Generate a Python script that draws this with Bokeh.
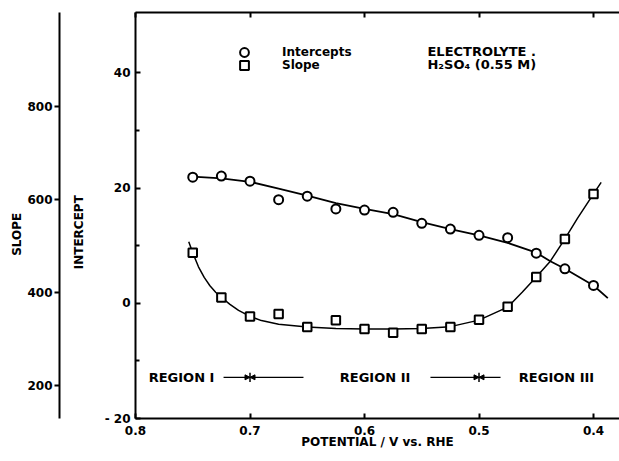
from bokeh.plotting import figure
from bokeh.models import (Range1d, LinearAxis, FixedTicker, Legend, LegendItem,
                          Label, Arrow, NormalHead, ColumnDataSource)
from bokeh.embed import file_html
from bokeh.resources import INLINE

# ---------------- data ----------------
potential = [0.75, 0.725, 0.70, 0.675, 0.65, 0.625, 0.60, 0.575, 0.55, 0.525,
             0.50, 0.475, 0.45, 0.425, 0.40]
intercepts = [21.9, 22.1, 21.2, 18.0, 18.6, 16.4, 16.2, 15.8, 13.9, 12.9,
              11.8, 11.4, 8.7, 6.0, 3.1]
slopes = [485, 389, 348, 353, 325, 340, 321, 313, 321, 325,
          341, 369, 433, 515, 612]

# fitted curves as drawn in the figure
intercept_fit_x = [0.7536, 0.75, 0.725, 0.70, 0.675, 0.65, 0.625, 0.60, 0.575,
                   0.55, 0.525, 0.50, 0.475, 0.45, 0.4377, 0.425, 0.40, 0.3875]
intercept_fit_y = [22.2, 22.0, 21.7, 21.1, 19.9, 18.7, 17.4, 16.4, 15.5,
                   14.1, 12.9, 11.8, 10.5, 8.8, 7.3, 6.0, 3.1, 0.9]
slope_fit_x = [0.7535, 0.75, 0.745, 0.74, 0.735, 0.73, 0.725, 0.7175, 0.71,
               0.70, 0.69, 0.675, 0.65, 0.625, 0.60, 0.575, 0.55, 0.525,
               0.50, 0.475, 0.4623, 0.45, 0.4377, 0.425, 0.4139, 0.40, 0.3933]
slope_fit_y = [509, 485, 455, 432, 414, 400, 389, 374, 361,
               348, 339, 331, 325, 322, 321, 321, 322, 326,
               340, 368, 400, 433, 467, 515, 560, 612, 637]

x_ticks = [0.8, 0.7, 0.6, 0.5, 0.4]
x_tick_labels = ["0.8", "0.7", "0.6", "0.5", "0.4"]
intercept_ticks = [-20, 0, 20, 40]
intercept_minor = [-10, 10, 30]
intercept_tick_labels = ["- 20", "0", "20", "40"]
slope_ticks = [200, 400, 600, 800]

region_names = ["REGION I", "REGION II", "REGION III"]
region_name_x = [0.7598, 0.5908, 0.4323]
region_bounds = [0.7, 0.5]
region_arrow_from = [0.7231, 0.6533, 0.5424, 0.4812]
region_arrow_to = [0.7, 0.7, 0.5, 0.5]
region_level = -12.85

FONT = "DejaVu Sans"
NB = "\u00a0"

p = figure(width=619, height=460, output_backend="svg", toolbar_location=None,
           x_range=Range1d(0.8, 0.3773), y_range=Range1d(-20, 50.5),
           min_border_left=135, min_border_right=0, min_border_top=12,
           min_border_bottom=42, outline_line_color=None)
p.grid.visible = False
p.background_fill_color = "white"

p.extra_y_ranges = {"slope": Range1d(128, 1003)}

# bottom x axis
xa = p.xaxis[0]
xa.ticker = FixedTicker(ticks=x_ticks, minor_ticks=[])
xa.major_label_overrides = {t: l for t, l in zip(x_ticks, x_tick_labels)}
xa.axis_label = "POTENTIAL / V vs. RHE"

# top border with inward ticks (minor ticks carry no labels)
top = LinearAxis(ticker=FixedTicker(ticks=[], minor_ticks=x_ticks),
                 major_tick_in=0, major_tick_out=0,
                 minor_tick_in=5, minor_tick_out=0)
p.add_layout(top, "above")

# intercept axis
ya = p.yaxis[0]
ya.ticker = FixedTicker(ticks=intercept_ticks, minor_ticks=intercept_minor)
ya.major_label_overrides = {t: l for t, l in zip(intercept_ticks, intercept_tick_labels)}
ya.axis_label = "INTERCEPT" + NB * 8

# spacer between the two left axes (white tick, no label)
gap = LinearAxis(y_range_name="slope", ticker=FixedTicker(ticks=[150], minor_ticks=[150]),
                 axis_line_color=None, major_tick_line_color="white",
                 minor_tick_line_color="white", major_tick_out=9, major_tick_in=0,
                 minor_tick_out=9, minor_tick_in=0, major_label_standoff=0,
                 major_label_overrides={150: ""})
p.add_layout(gap, "left")

# slope axis
sa = LinearAxis(y_range_name="slope", axis_label="SLOPE" + NB * 9,
                ticker=FixedTicker(ticks=slope_ticks, minor_ticks=[]))
p.add_layout(sa, "left")

for ax in [xa, ya]:
    ax.major_tick_in = 5
    ax.major_tick_out = 0
    ax.minor_tick_in = 4
    ax.minor_tick_out = 0
for ax in [xa, top, ya, sa]:
    ax.axis_line_color = "black"
    ax.axis_line_width = 2
    ax.major_tick_line_color = "black"
    ax.major_tick_line_width = 2
    ax.minor_tick_line_color = "black"
    ax.minor_tick_line_width = 2
for ax in [xa, ya, sa]:
    ax.major_label_text_font = FONT
    ax.major_label_text_font_style = "bold"
    ax.major_label_text_font_size = "12px"
    ax.major_label_text_color = "black"
    ax.axis_label_text_font = FONT
    ax.axis_label_text_font_style = "bold"
    ax.axis_label_text_font_size = "12px"
    ax.axis_label_text_color = "black"

sa.major_tick_in = 0
sa.major_tick_out = 5
sa.major_label_standoff = 2
sa.axis_label_standoff = 0

ya.major_label_standoff = 5
ya.axis_label_standoff = 16

xa.major_label_standoff = 7
xa.axis_label_standoff = -3

# curves
p.line(intercept_fit_x, intercept_fit_y, line_color="black", line_width=1.8)
p.line(slope_fit_x, slope_fit_y, line_color="black", line_width=1.5,
       y_range_name="slope")

circ = p.scatter(potential, intercepts, marker="circle", size=9,
                 fill_color="white", line_color="black", line_width=2)
sq = p.scatter(potential, slopes, marker="square", size=8.5,
               fill_color="white", line_color="black", line_width=2,
               y_range_name="slope")

legend_common = dict(border_line_color=None, background_fill_alpha=0, padding=0,
                     margin=0, spacing=0, glyph_width=22, glyph_height=22,
                     label_height=13, label_standoff=27, label_text_font=FONT,
                     label_text_font_style="bold", label_text_font_size="12px",
                     label_text_color="black")
p.add_layout(Legend(items=[LegendItem(label="Intercepts", renderers=[circ])],
                    location=(98, 355), **legend_common))
p.add_layout(Legend(items=[LegendItem(label="Slope", renderers=[sq])],
                    location=(98, 342), **legend_common))

for txt, yy in [("ELECTROLYTE .", 43.8), ("H\u2082SO\u2084 (0.55 M)", 41.5)]:
    p.add_layout(Label(x=0.545, y=yy, text=txt, text_font=FONT,
                       text_font_style="bold", text_font_size="13px",
                       text_color="black",
                       text_baseline="middle", text_align="left"))

# region annotations
for name, xx in zip(region_names, region_name_x):
    p.add_layout(Label(x=xx, y=region_level, text=name, text_font=FONT,
                       text_font_style="bold", text_font_size="13px",
                       text_color="black",
                       text_baseline="middle", text_align="center"))
for x0, x1 in zip(region_arrow_from, region_arrow_to):
    p.add_layout(Arrow(x_start=x0, y_start=region_level, x_end=x1, y_end=region_level,
                       line_width=1.2, line_color="black",
                       end=NormalHead(size=5, fill_color="black", line_color="black")))
bsrc = ColumnDataSource(dict(x=region_bounds,
                             y0=[region_level + 0.8] * len(region_bounds),
                             y1=[region_level - 0.8] * len(region_bounds)))
p.segment(x0="x", y0="y0", x1="x", y1="y1", source=bsrc, line_color="black",
          line_width=1.5)

open("out.html", "w").write(file_html(p, INLINE))
